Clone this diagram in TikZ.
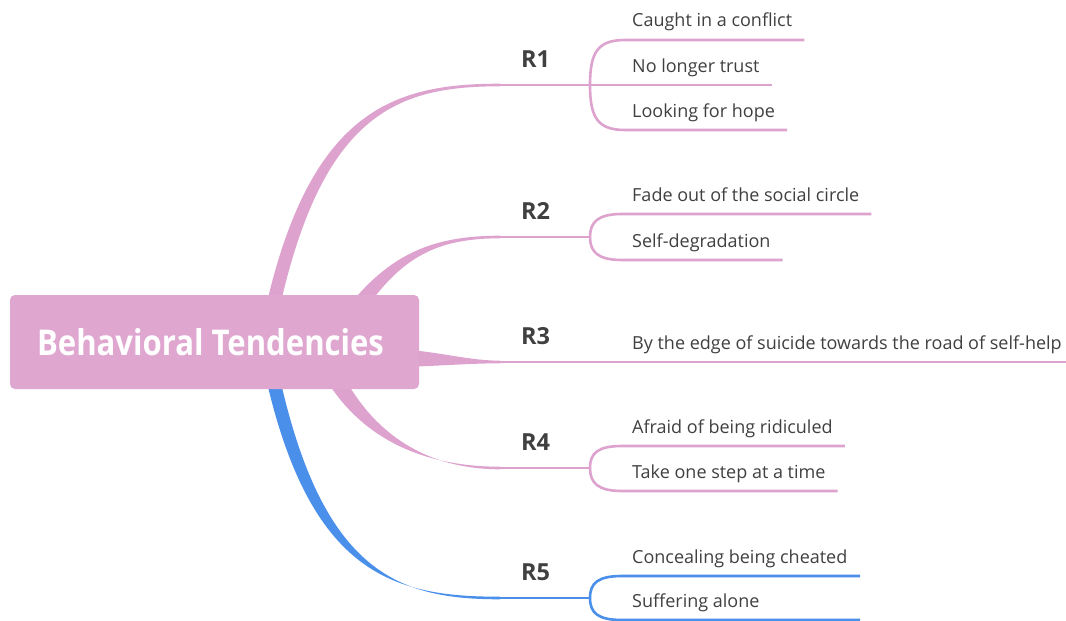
\documentclass[tikz,border=0pt]{standalone}
\usepackage{fontspec}
\setmainfont{Open Sans}
\newfontfamily\rootfont{Open Sans}[FakeStretch=0.875]
\usetikzlibrary{calc}
\definecolor{pinkc}{HTML}{DFA7D0}
\definecolor{pinkl}{HTML}{DDA3CE}
\definecolor{bluec}{HTML}{4A8FEA}
\definecolor{txtc}{HTML}{404040}
\pgfdeclarelayer{bg}
\pgfsetlayers{bg,main}
\begin{document}
\begin{tikzpicture}[x=1pt,y=-1pt,
  leaf/.style={anchor=base west, inner sep=0pt, text=txtc, font=\fontsize{18}{21}\selectfont},
  rlab/.style={anchor=base west, inner sep=0pt, text=txtc, font=\bfseries\fontsize{23.5}{26}\selectfont},
  pline/.style={draw=pinkl, line width=2.6pt},
  bline/.style={draw=bluec, line width=2.6pt},
  pbranch/.style={fill=pinkl, draw=none},
  bbranch/.style={fill=bluec, draw=none},
  rootbox/.style={fill=pinkc, rounded corners=5pt, minimum width=409pt, minimum height=94pt, inner sep=0pt},
  roottext/.style={inner sep=0pt, text=white, font=\rootfont\bfseries\fontsize{35.5}{40}\selectfont}
]
\useasboundingbox (0,0) rectangle (1066,621);

% root
\node[rootbox] (root) at (214.5,342) {};
\node[roottext] (roottxt) at ($(root.center)+(-4,0)$) {Behavioral Tendencies};

% R labels
\node[rlab] (R1) at (521,67) {R1};
\node[rlab] (R2) at (521,219) {R2};
\node[rlab] (R3) at (521,344) {R3};
\node[rlab] (R4) at (521,450) {R4};
\node[rlab] (R5) at (521,580) {R5};

% coordinates
\coordinate (r1s) at (500,85);  \coordinate (f1) at (590,85);
\coordinate (r2s) at (500,237); \coordinate (f2) at (590,237);
\coordinate (r3s) at (500,362);
\coordinate (r4s) at (500,468); \coordinate (f4) at (590,468);
\coordinate (r5s) at (500,598); \coordinate (f5) at (590,598);

% leaves
\node[leaf] (l11) at (632,27) {Caught in a conflict};
\node[leaf] (l12) at (632,72) {No longer trust};
\node[leaf] (l13) at (632,117) {Looking for hope};
\node[leaf] (l21) at (632,201) {Fade out of the social circle};
\node[leaf] (l22) at (632,247) {Self-degradation};
\node[leaf] (l31) at (632,349) {By the edge of suicide towards the road of self-help};
\node[leaf] (l41) at (632,433) {Afraid of being ridiculed};
\node[leaf] (l42) at (632,478) {Take one step at a time};
\node[leaf] (l51) at (632,563) {Concealing being cheated};
\node[leaf] (l52) at (632,607) {Suffering alone};

\begin{pgfonlayer}{bg}
\fill[white] (0,0) rectangle (1066,621);
% tapered main branches
\path[pbranch] (261,330) .. controls (305,110) and (392,83.7) .. (500,83.7) -- (500,86.3) .. controls (396,86.3) and (318,113) .. (275,330) -- cycle;
\path[pbranch] (338,320) .. controls (385,255) and (430,235.7) .. (500,235.7) -- (500,238.3) .. controls (432,238.3) and (398,260) .. (358,320) -- cycle;
\path[pbranch] (400,349) .. controls (440,352) and (470,360.7) .. (500,360.7) -- (500,363.3) .. controls (470,363.3) and (440,366) .. (400,367) -- cycle;
\path[pbranch] (318,365) .. controls (356,440) and (425,466.7) .. (500,466.7) -- (500,469.3) .. controls (428,469.3) and (371,435) .. (338,365) -- cycle;
\path[bbranch] (261,355) .. controls (305,575) and (392,596.7) .. (500,596.7) -- (500,599.3) .. controls (396,599.3) and (318,572) .. (275,355) -- cycle;
\end{pgfonlayer}

% R lines
\draw[pline] (r1s) -- (f1);
\draw[pline] (r2s) -- (f2);
\draw[pline] (r3s) -- ($(l31.base east)+(12,13)$);
\draw[pline] (r4s) -- (f4);
\draw[bline] (r5s) -- (f5);

% R1 leaves
\draw[pline] (f1) .. controls (590,52) and (598,40) .. (625,40) -- ($(l11.base east)+(12,13)$);
\draw[pline] (f1) -- ($(l12.base east)+(12,13)$);
\draw[pline] (f1) .. controls (590,118) and (598,130) .. (625,130) -- ($(l13.base east)+(12,13)$);
% R2 leaves
\draw[pline] (f2) .. controls (590,222) and (598,214) .. (622,214) -- ($(l21.base east)+(12,13)$);
\draw[pline] (f2) .. controls (590,252) and (598,260) .. (622,260) -- ($(l22.base east)+(12,13)$);
% R4 leaves
\draw[pline] (f4) .. controls (590,453) and (598,446) .. (622,446) -- ($(l41.base east)+(12,13)$);
\draw[pline] (f4) .. controls (590,483) and (598,491) .. (622,491) -- ($(l42.base east)+(12,13)$);
% R5 leaves
\draw[bline] (f5) .. controls (590,583) and (598,576) .. (622,576) -- (860,576) coordinate (e51);
\draw[bline] (f5) .. controls (590,613) and (598,620) .. (622,620) -- (860,620) coordinate (e52);
\end{tikzpicture}
\end{document}
